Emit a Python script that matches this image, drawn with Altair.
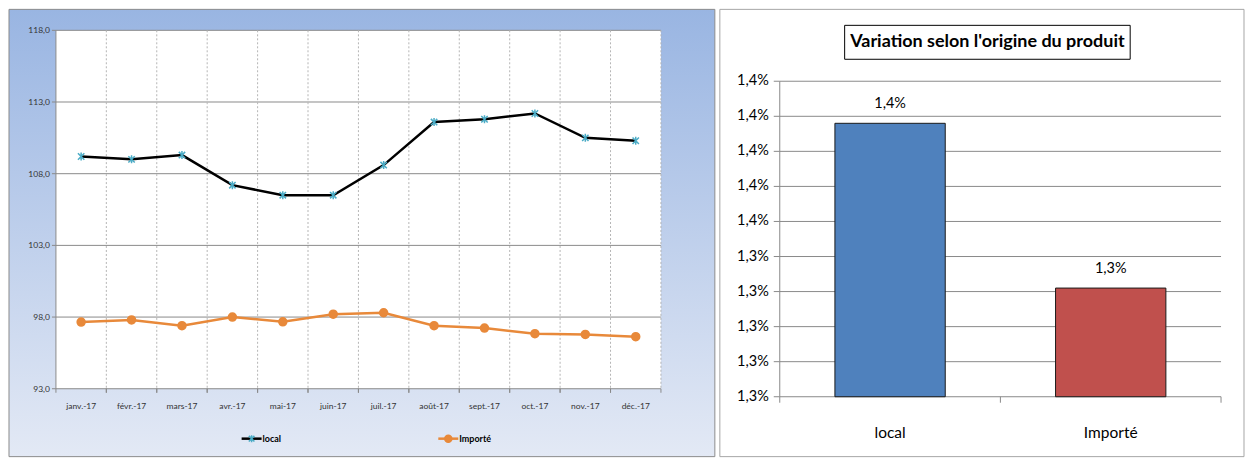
import altair as alt
import pandas as pd

# ---------------- data ----------------
months = ["janv.-17", "févr.-17", "mars-17", "avr.-17", "mai-17", "juin-17",
          "juil.-17", "août-17", "sept.-17", "oct.-17", "nov.-17", "déc.-17"]
local_idx = [109.2, 109.0, 109.3, 107.2, 106.5, 106.5, 108.6, 111.6, 111.8, 112.2, 110.5, 110.3]
importe_idx = [97.65, 97.8, 97.4, 98.0, 97.67, 98.2, 98.3, 97.4, 97.23, 96.84, 96.79, 96.63]
series_names = ["local", "Importé"]
y_ticks_left = [93.0, 98.0, 103.0, 108.0, 113.0, 118.0]

origins = ["local", "Importé"]
variation = [1.378, 1.331]
y_ticks_right = [1.30, 1.31, 1.32, 1.33, 1.34, 1.35, 1.36, 1.37, 1.38, 1.39]
title_right = "Variation selon l'origine du produit"

# ---------------- style ----------------
FONT = "Lato, Liberation Sans, sans-serif"
W1, H1 = 606, 359
W2, H2 = 442, 367
GRID = "#8a8a8a"
C_LOCAL_LINE, C_LOCAL_MARK, C_IMP = "#000000", "#4BACC6", "#E8893A"

rows = []
for m, a, b in zip(months, local_idx, importe_idx):
    rows.append({"month": m, "series": series_names[0], "value": a})
    rows.append({"month": m, "series": series_names[1], "value": b})
df = pd.DataFrame(rows)
one = pd.DataFrame({"a": [0]})
df_months = pd.DataFrame({"month": months})
df_yl = pd.DataFrame({"t": y_ticks_left})
df_yr = pd.DataFrame({"t": y_ticks_right})

xscale = alt.Scale(domain=months, type="band", paddingInner=0, paddingOuter=0)
yscale = alt.Scale(domain=[93, 118], zero=False, nice=False)

star = "M-0.8,-0.8L0.8,0.8M-0.8,0.8L0.8,-0.8M0,-1L0,1"

# ================= left chart =================
bg = alt.Chart(one).mark_rect(
    fill=alt.Gradient(gradient="linear",
                      stops=[alt.GradientStop(color="#99b5e2", offset=0),
                             alt.GradientStop(color="#e3e9f5", offset=1)],
                      x1=0, x2=0, y1=0, y2=1),
    stroke="#8c8c8c", strokeWidth=1,
).encode(x=alt.value(-47), x2=alt.value(660), y=alt.value(-21), y2=alt.value(427))

plot_bg = alt.Chart(one).mark_rect(fill="white").encode(
    x=alt.value(0), x2=alt.value(W1), y=alt.value(0), y2=alt.value(H1))

hgrid = alt.Chart(df_yl).mark_rule(color=GRID, strokeWidth=1).encode(
    y=alt.Y("t:Q", scale=yscale, axis=None))

vgrid = alt.Chart(df_months).mark_rule(
    color="#b5b5b5", strokeWidth=1, strokeDash=[2, 2]).encode(
    x=alt.X("month:N", bandPosition=1, scale=xscale, axis=None))

# axis drawn with marks (so it sits above the panel background)
y_dom = alt.Chart(one).mark_rule(color=GRID, strokeWidth=1).encode(
    x=alt.value(0), y=alt.value(0), y2=alt.value(H1))
y_tk = alt.Chart(df_yl).mark_rule(color=GRID, strokeWidth=1).encode(
    y=alt.Y("t:Q", scale=yscale, axis=None), x=alt.value(-4), x2=alt.value(0))
y_lab = alt.Chart(df_yl).mark_text(font=FONT, fontSize=8.5, color="#333333", align="right",
                                    baseline="middle").encode(
    y=alt.Y("t:Q", scale=yscale, axis=None), x=alt.value(-6), text="lab:N"
).transform_calculate(lab="replace(format(datum.t, '.1f'), '.', ',')")
x_tk0 = alt.Chart(df_months).mark_rule(color=GRID, strokeWidth=1).encode(
    x=alt.X("month:N", bandPosition=0, scale=xscale, axis=None), y=alt.value(H1), y2=alt.value(H1 + 4))
x_tk1 = alt.Chart(df_months).mark_rule(color=GRID, strokeWidth=1).encode(
    x=alt.X("month:N", bandPosition=1, scale=xscale, axis=None), y=alt.value(H1), y2=alt.value(H1 + 4))
x_lab = alt.Chart(df_months).mark_text(font=FONT, fontSize=8.5, color="#333333", align="center",
                                        baseline="middle").encode(
    x=alt.X("month:N", scale=xscale, axis=None), y=alt.value(H1 + 17), text="month:N")

lines = alt.Chart(df).mark_line(strokeWidth=2.5).encode(
    x=alt.X("month:N", scale=xscale, axis=None),
    y=alt.Y("value:Q", scale=yscale, axis=None),
    color=alt.Color("series:N", scale=alt.Scale(domain=series_names, range=[C_LOCAL_LINE, C_IMP]),
                    legend=None),
)

points = alt.Chart(df).mark_point(filled=True, size=64, strokeWidth=1.5, opacity=1).encode(
    x=alt.X("month:N", scale=xscale, axis=None),
    y=alt.Y("value:Q", scale=yscale, axis=None),
    shape=alt.Shape("series:N", scale=alt.Scale(domain=series_names, range=[star, "circle"]), legend=None),
    fill=alt.Fill("series:N", scale=alt.Scale(domain=series_names, range=[C_LOCAL_MARK, C_IMP]), legend=None),
    stroke=alt.Stroke("series:N", scale=alt.Scale(domain=series_names, range=[C_LOCAL_MARK, C_IMP]), legend=None),
)

# ---- legend (small marks below the plot) ----
LEG_Y = 409
leg_parts = []
for name, x0, xc, line_c, mark_c, shp, xt in [
    (series_names[0], 186, 196, C_LOCAL_LINE, C_LOCAL_MARK, star, 207),
    (series_names[1], 383, 393, C_IMP, C_IMP, "circle", 404),
]:
    leg_parts.append(alt.Chart(one).mark_rule(color=line_c, strokeWidth=2.5).encode(
        x=alt.value(x0), x2=alt.value(x0 + 20), y=alt.value(LEG_Y)))
    leg_parts.append(alt.Chart(one).mark_point(shape=shp, size=49, filled=(shp == "circle"),
                                               fill=mark_c, stroke=mark_c, strokeWidth=1.5, opacity=1).encode(
        x=alt.value(xc), y=alt.value(LEG_Y)))
    leg_parts.append(alt.Chart(pd.DataFrame({"s": [name]})).mark_text(
        align="left", baseline="middle", font=FONT, fontSize=9, fontWeight="bold", color="#000000").encode(
        x=alt.value(xt), y=alt.value(LEG_Y), text="s:N"))

left = alt.layer(bg, plot_bg, hgrid, vgrid, y_dom, y_tk, y_lab, x_tk0, x_tk1, x_lab,
                 lines, points, *leg_parts).properties(width=W1, height=H1)

# ================= right chart =================
dfr = pd.DataFrame({"origin": origins, "v": variation})
yscale_r = alt.Scale(domain=[1.30, 1.39], range=[H2, 51], zero=False, nice=False)
xscale_r = alt.Scale(domain=origins, paddingInner=0.5, paddingOuter=0.25)

panel = alt.Chart(one).mark_rect(fill="white", stroke="#a6a6a6", strokeWidth=1).encode(
    x=alt.value(-60), x2=alt.value(465), y=alt.value(-21), y2=alt.value(427))
tbox = alt.Chart(one).mark_rect(fill="white", stroke="#000000", strokeWidth=1).encode(
    x=alt.value(65), x2=alt.value(351), y=alt.value(-5), y2=alt.value(29))
ttext = alt.Chart(pd.DataFrame({"t": [title_right]})).mark_text(
    font=FONT, fontSize=18, fontWeight="bold", align="center", baseline="middle", color="black").encode(
    x=alt.value(208), y=alt.value(12), text="t:N")

rgrid = alt.Chart(df_yr).mark_rule(color=GRID, strokeWidth=1).encode(
    y=alt.Y("t:Q", scale=yscale_r, axis=None))

ry_dom = alt.Chart(one).mark_rule(color=GRID, strokeWidth=1).encode(
    x=alt.value(0), y=alt.value(51), y2=alt.value(H2))
ry_tk = alt.Chart(df_yr).mark_rule(color=GRID, strokeWidth=1).encode(
    y=alt.Y("t:Q", scale=yscale_r, axis=None), x=alt.value(-6), x2=alt.value(0))
ry_lab = alt.Chart(df_yr).mark_text(font=FONT, fontSize=14.5, color="#000000", align="right",
                                     baseline="middle").encode(
    y=alt.Y("t:Q", scale=yscale_r, axis=None), x=alt.value(-11), text="lab:N"
).transform_calculate(lab="replace(format(datum.t, '.1f'), '.', ',') + '%'")

rx_tks = [alt.Chart(one).mark_rule(color=GRID, strokeWidth=1).encode(
    x=alt.value(px), y=alt.value(H2), y2=alt.value(H2 + 6)) for px in (0, W2 / 2, W2)]

df_org = pd.DataFrame({"origin": origins})
rx_lab = alt.Chart(df_org).mark_text(font=FONT, fontSize=15.5, color="#000000", align="center",
                                      baseline="middle").encode(
    x=alt.X("origin:N", scale=xscale_r, axis=None), y=alt.value(H2 + 36), text="origin:N")

bars = alt.Chart(dfr).mark_bar(stroke="#1a1a1a", strokeWidth=1).encode(
    x=alt.X("origin:N", sort=origins, scale=xscale_r, axis=None),
    y=alt.Y("v:Q", scale=yscale_r, axis=None),
    y2=alt.datum(1.30),
    fill=alt.Fill("origin:N", scale=alt.Scale(domain=origins, range=["#4F81BD", "#C0504D"]), legend=None),
)

blabels = alt.Chart(dfr).mark_text(font=FONT, fontSize=14.5, baseline="bottom", dy=-12, color="#000000").encode(
    x=alt.X("origin:N", sort=origins, scale=xscale_r, axis=None),
    y=alt.Y("v:Q", scale=yscale_r, axis=None),
    text=alt.Text("lab:N"),
).transform_calculate(lab="replace(format(datum.v, '.1f'), '.', ',') + '%'")

right = alt.layer(panel, tbox, ttext, rgrid, bars, ry_dom, ry_tk, ry_lab, *rx_tks, rx_lab,
                  blabels).properties(width=W2, height=H2)

chart = alt.hconcat(left, right, spacing=119, bounds="flush", padding=0).resolve_scale(
    color="independent", fill="independent", shape="independent", stroke="independent"
).configure_view(stroke=None).configure(background="white")

chart.save("out.html", embed_options={"renderer": "svg", "actions": False})
